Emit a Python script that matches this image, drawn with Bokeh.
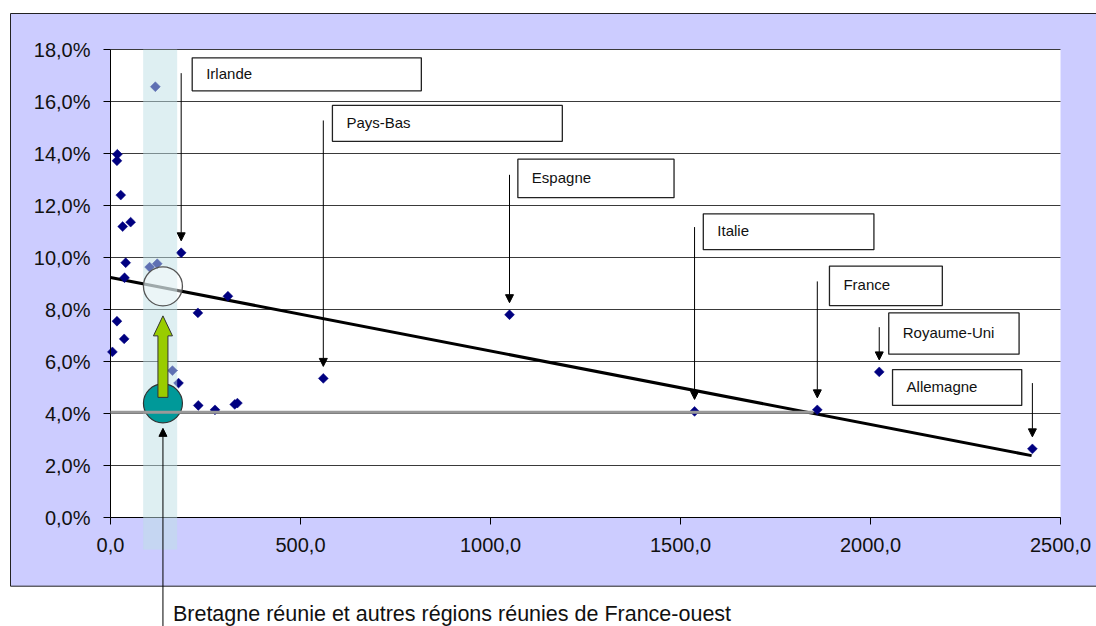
import numpy as np
from bokeh.plotting import figure
from bokeh.models import (Range1d, FixedTicker, BoxAnnotation, Arrow, NormalHead,
                          Label, ColumnDataSource)
from bokeh.core.properties import value
from bokeh.embed import file_html
from bokeh.resources import INLINE

# ---------------- data ----------------
country_names = ["Irlande", "Pays-Bas", "Espagne", "Italie", "France", "Royaume-Uni", "Allemagne"]
country_x = [186, 560, 1050, 1537, 1860, 2023, 2426]
country_y = [10.18, 5.35, 7.80, 4.08, 4.14, 5.60, 2.64]

region_x = [118, 18, 17, 27, 32, 53, 40, 37, 103, 123, 309, 230, 17, 36, 5,
            163, 179, 231, 275, 327, 334]
region_y = [16.57, 13.97, 13.72, 12.40, 11.19, 11.36, 9.80, 9.22, 9.63, 9.76, 8.51,
            7.87, 7.55, 6.87, 6.37, 5.65, 5.17, 4.31, 4.14, 4.35, 4.40]

bretagne_label = "Bretagne réunie et autres régions réunies de France-ouest"
bretagne_x = 138
bretagne_actual = 4.39
bretagne_predicted = 8.89
reference_level = 4.05
reference_end_x = 1850

trend_x = [0, 2424]
trend_y = [9.23, 2.38]

band_x = [86, 175.5]

y_ticks = [0, 2, 4, 6, 8, 10, 12, 14, 16, 18]
y_tick_labels = ["0,0%", "2,0%", "4,0%", "6,0%", "8,0%", "10,0%", "12,0%", "14,0%", "16,0%", "18,0%"]
x_ticks = [0, 500, 1000, 1500, 2000, 2500]
x_tick_labels = ["0,0", "500,0", "1000,0", "1500,0", "2000,0", "2500,0"]

# ---------------- layout of callout boxes (data units) ----------------
box_left = [215, 584, 1072, 1560, 1892, 2048, 2058]
box_right = [818, 1189, 1483, 2009, 2189, 2391, 2398]
box_top = [17.68, 15.85, 13.78, 11.68, 9.67, 7.87, 5.69]
box_bottom = [16.41, 14.47, 12.30, 10.30, 8.15, 6.28, 4.31]
arrow_top = [17.09, 15.27, 13.18, 11.17, 9.08, 7.32, 5.17]

# ---------------- geometry ----------------
W, H = 1096, 626
PLOT_L, PLOT_T, PLOT_W, PLOT_H = 110, 49, 950, 468   # chart area in pixels
X0, X1, Y0, Y1 = 0, 2500, 0, 18
ux = (X1 - X0) / PLOT_W   # data units per pixel (x)
uy = (Y1 - Y0) / PLOT_H   # data units per pixel (y)

FONT = "Liberation Sans"

p = figure(width=W, height=H, frame_width=W, frame_height=H, min_border=0,
           x_range=Range1d(X0 - PLOT_L * ux, X0 + (W - PLOT_L) * ux),
           y_range=Range1d(Y0 - (H - PLOT_T - PLOT_H) * uy, Y1 + PLOT_T * uy),
           output_backend="svg", toolbar_location=None,
           background_fill_color="white", border_fill_color="white",
           outline_line_color=None)
p.xgrid.visible = False
p.ygrid.visible = False

# outer lavender panel and white chart area
p.quad(left=[X0 - 100 * ux], right=[X1 + 200 * ux], top=[Y1 + 36 * uy], bottom=[Y0 - 68.7 * uy],
       fill_color="#CCCCFF", line_color="#222222", line_width=1, level="image")
p.quad(left=[X0], right=[X1], top=[Y1], bottom=[Y0], fill_color="white", line_color=None,
       level="image")

# horizontal gridlines
p.segment(x0=[X0] * len(y_ticks), x1=[X1] * len(y_ticks), y0=y_ticks, y1=y_ticks,
          line_color="#3a3a3a", line_width=1, level="underlay")

# axes fixed at the data origin
for ax, ticks, labels, bounds in ((p.xaxis, x_ticks, x_tick_labels, (X0, X1)),
                                  (p.yaxis, y_ticks, y_tick_labels, (Y0, Y1))):
    ax.fixed_location = 0
    ax.bounds = bounds
    ax.ticker = FixedTicker(ticks=ticks)
    ax.major_label_overrides = {t: l for t, l in zip(ticks, labels)}
    ax.major_label_text_font = FONT
    ax.major_label_text_font_size = "20px"
    ax.major_label_text_color = "#111111"
    ax.axis_line_color = "black"
    ax.axis_line_width = 1
    ax.major_tick_line_color = "black"
    ax.major_tick_out = 7
    ax.major_tick_in = 0
    ax.minor_tick_line_color = None
    ax.major_label_standoff = 13

# callout boxes
p.quad(left=box_left, right=box_right, top=box_top, bottom=box_bottom,
       fill_color="white", line_color="#222222", line_width=1.3)
p.text(x=box_left, y=[(t + b) / 2 for t, b in zip(box_top, box_bottom)], text=country_names,
       x_offset=14, y_offset=-1, text_baseline="middle", text_align="left",
       text_font=value(FONT), text_font_size="15px", text_color="#111111")

# trend line
p.line(trend_x, trend_y, line_color="black", line_width=3)

# points
p.scatter(region_x + country_x, region_y + country_y, marker="square", angle=np.pi / 4,
          size=7, fill_color="#000080", line_color="#000080", line_width=0.5)

# highlight band
p.add_layout(BoxAnnotation(left=band_x[0], right=band_x[1], top=Y1, bottom=Y0 - 32 * uy,
                           fill_color="#BDE0E6", fill_alpha=0.5, line_color=None,
                           level="annotation"))

# callout arrows
tip_gap = 12 * uy
arrow_src = ColumnDataSource(dict(x=country_x, y0=arrow_top,
                                  y1=[v + tip_gap for v in country_y]))
p.add_layout(Arrow(x_start="x", y_start="y0", x_end="x", y_end="y1", source=arrow_src,
                   line_color="black", line_width=1,
                   end=NormalHead(size=8, fill_color="black", line_color="black", line_width=1)))

# Bretagne arrow + label
r_px = 19.5
p.add_layout(Arrow(x_start=bretagne_x, y_start=Y0 - 140 * uy, x_end=bretagne_x,
                   y_end=bretagne_actual - (r_px + 5.5) * uy,
                   line_color="black", line_width=1,
                   end=NormalHead(size=8, fill_color="black", line_color="black", line_width=1)))
p.add_layout(Label(x=bretagne_x, y=Y0 - 96 * uy, x_offset=10, text=bretagne_label,
                   text_font=FONT, text_font_size="21.5px", text_color="#111111",
                   text_baseline="alphabetic"))

# predicted (hollow) and actual (teal) circles
p.scatter([bretagne_x], [bretagne_predicted], size=2 * r_px, fill_color="white", fill_alpha=0.4,
          line_color="#555555", line_width=1.3, level="overlay")
p.scatter([bretagne_x], [bretagne_actual], size=2 * r_px, fill_color="#009999",
          line_color="#333333", line_width=1.2, level="overlay")

# reference horizontal line
p.line([0, reference_end_x], [reference_level, reference_level], line_color="#999999",
       line_width=3, level="overlay")

# green up-arrow
tail = bretagne_actual + 6 * uy
tip = bretagne_predicted - (r_px + 10) * uy
head_base = tip - 20 * uy
bx = bretagne_x
p.patch([bx - 5 * ux, bx + 5 * ux, bx + 5 * ux, bx + 9.5 * ux, bx, bx - 9.5 * ux, bx - 5 * ux],
        [tail, tail, head_base, head_base, tip, head_base, head_base],
        fill_color="#99CC00", line_color="#333333", line_width=1, level="overlay")

open("out.html", "w").write(file_html(p, INLINE))
